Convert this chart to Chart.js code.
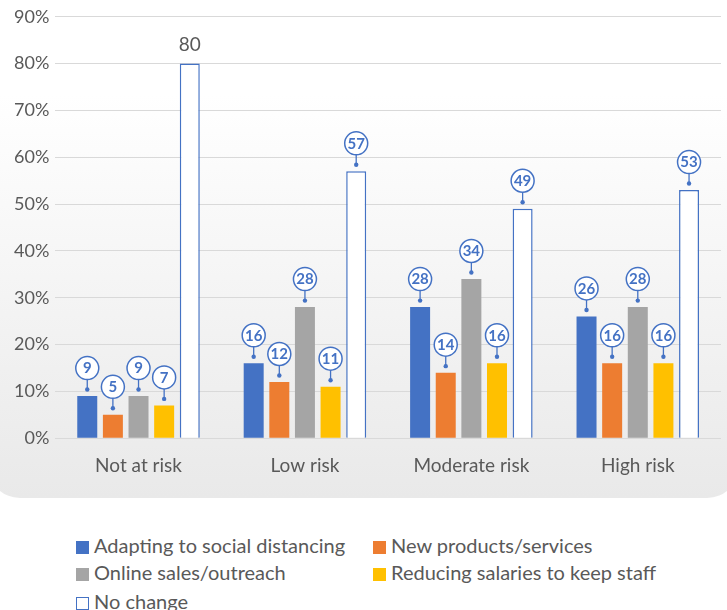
<!DOCTYPE html>
<html>
<head>
<meta charset="utf-8">
<script src="https://cdn.jsdelivr.net/npm/chart.js@4"></script>
<style>
  html, body { margin: 0; padding: 0; background: #fff; overflow: hidden; }
  body { width: 727px; height: 610px; position: relative; font-family: Lato, "Open Sans", sans-serif; }
  .panel {
    position: absolute; left: -12px; top: -40px; width: 751px; height: 538px;
    border-radius: 32px;
    background: linear-gradient(to bottom, #ffffff 0%, #ffffff 25%, #e9e9e9 100%);
  }
  .chart-box { position: absolute; left: 0; top: 0; width: 727px; height: 490px; }
  .legend { position: absolute; left: 76px; top: 532px; color: #595959; font-size: 20px; }
  .legend .item { position: absolute; white-space: nowrap; height: 26px; line-height: 26px; }
  .legend .sw { display: inline-block; width: 13px; height: 13px; margin-right: 5px; vertical-align: -1px; box-sizing: border-box; }
</style>
</head>
<body>
<div class="panel"></div>
<div class="chart-box"><canvas id="chart"></canvas></div>
<div class="legend" id="legend"></div>
<script>
const categories = ["Not at risk", "Low risk", "Moderate risk", "High risk"];
const seriesNames = ["Adapting to social distancing", "New products/services", "Online sales/outreach", "Reducing salaries to keep staff", "No change"];
const socialDistancing = [9, 16, 28, 26];
const newProducts = [5, 12, 14, 16];
const onlineSales = [9, 28, 34, 28];
const reducingSalaries = [7, 11, 16, 16];
const noChange = [80, 57, 49, 53];
const yTicks = [0, 10, 20, 30, 40, 50, 60, 70, 80, 90];

const fills = ["#4472c4", "#ed7d31", "#a5a5a5", "#ffc000", "#ffffff"];
const blue = "#4472c4";
const grey = "#595959";

// labels drawn as plain text instead of a callout bubble ("dataset:index")
const plainLabels = new Set(["4:0"]);

const calloutPlugin = {
  id: "callouts",
  afterDatasetsDraw(chart) {
    const ctx = chart.ctx;
    chart.data.datasets.forEach((ds, di) => {
      const meta = chart.getDatasetMeta(di);
      meta.data.forEach((bar, i) => {
        const v = ds.data[i];
        const x = bar.x, top = bar.y;
        ctx.save();
        if (plainLabels.has(di + ":" + i)) {
          ctx.fillStyle = grey;
          ctx.font = "19px Lato";
          ctx.textAlign = "center";
          ctx.textBaseline = "middle";
          ctx.fillText(String(v), x, top - 19);
          ctx.restore();
          return;
        }
        const r = 11.5, cy = top - 28, dotY = top - 6.5;
        ctx.strokeStyle = blue;
        ctx.lineWidth = 1.3;
        ctx.beginPath();
        ctx.moveTo(x, cy + r);
        ctx.lineTo(x, dotY);
        ctx.stroke();
        ctx.fillStyle = blue;
        ctx.beginPath();
        ctx.arc(x, dotY, 2.2, 0, Math.PI * 2);
        ctx.fill();
        ctx.fillStyle = "#fff";
        ctx.beginPath();
        ctx.arc(x, cy, r, 0, Math.PI * 2);
        ctx.fill();
        ctx.lineWidth = 1.5;
        ctx.stroke();
        ctx.fillStyle = blue;
        ctx.font = "bold 15px Lato";
        ctx.textAlign = "center";
        ctx.textBaseline = "middle";
        ctx.fillText(String(v), x, cy + 0.5);
        ctx.restore();
      });
    });
  }
};

const values = [socialDistancing, newProducts, onlineSales, reducingSalaries, noChange];
const datasets = values.map((d, k) => ({
  label: seriesNames[k],
  data: d,
  backgroundColor: fills[k],
  borderColor: k === 4 ? blue : fills[k],
  borderWidth: k === 4 ? 1.5 : 0,
  categoryPercentage: 0.77,
  barPercentage: 0.78
}));

new Chart(document.getElementById("chart"), {
  type: "bar",
  data: { labels: categories, datasets: datasets },
  options: {
    responsive: true,
    maintainAspectRatio: false,
    animation: false,
    layout: { padding: { top: 7, right: 6, left: 8, bottom: 5 } },
    plugins: { legend: { display: false }, tooltip: { enabled: false } },
    scales: {
      x: {
        grid: { display: false },
        border: { display: false },
        ticks: { color: grey, font: { family: "Lato", size: 19 }, padding: 8 }
      },
      y: {
        min: 0, max: 90,
        afterBuildTicks(axis) { axis.ticks = yTicks.map(v => ({ value: v })); },
        grid: { color: "#d9d9d9", lineWidth: 1, drawTicks: false },
        border: { display: false },
        ticks: { color: grey, font: { family: "Lato", size: 18 }, padding: 6, callback: v => v + "%" }
      }
    }
  },
  plugins: [calloutPlugin]
});

// two-column legend under the chart
const legendPos = [[0, 0], [297, 0], [0, 27], [297, 27], [0, 56]];
const legend = document.getElementById("legend");
seriesNames.forEach((name, k) => {
  const item = document.createElement("div");
  item.className = "item";
  item.style.left = legendPos[k][0] + "px";
  item.style.top = legendPos[k][1] + "px";
  const sw = document.createElement("span");
  sw.className = "sw";
  sw.style.background = fills[k];
  if (k === 4) sw.style.border = "1px solid " + blue;
  item.appendChild(sw);
  item.appendChild(document.createTextNode(name));
  legend.appendChild(item);
});
</script>
</body>
</html>
